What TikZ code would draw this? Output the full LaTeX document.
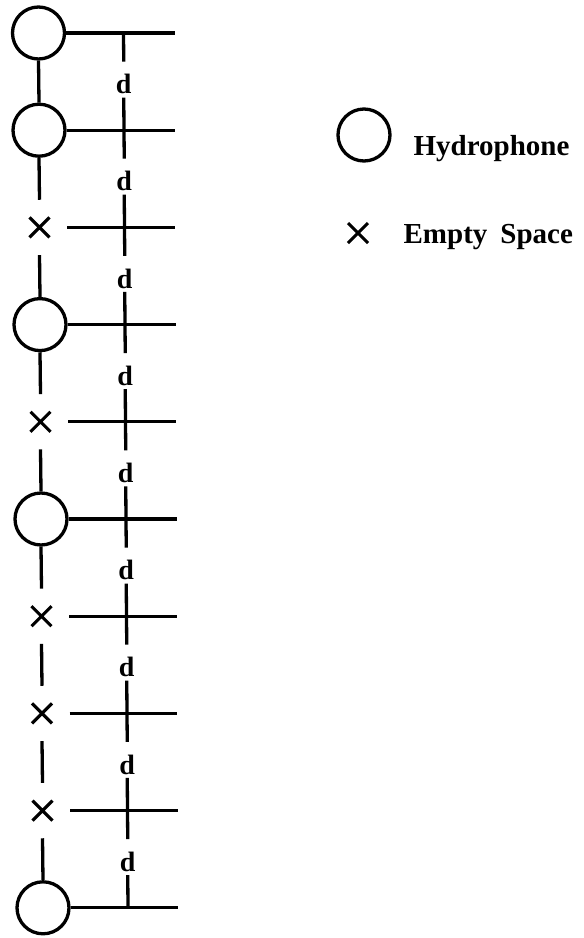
\documentclass[tikz,border=0pt]{standalone}
\usepackage{fontspec}
\setmainfont{Liberation Serif}
\usetikzlibrary{calc}
\begin{document}
\begin{tikzpicture}[x=1pt,y=-1pt,line width=3.3pt,
  hnode/.style={circle,draw,minimum size=52pt,inner sep=0pt},
  xnode/.style={circle,minimum size=52pt,inner sep=0pt,
    path picture={\draw[line width=3.1pt]
      ($(path picture bounding box.center)+(-10,-10)$) -- ($(path picture bounding box.center)+(10,10)$)
      ($(path picture bounding box.center)+(-10,10)$) -- ($(path picture bounding box.center)+(10,-10)$);}},
  dlab/.style={inner sep=0pt,anchor=base,font=\fontsize{28}{32}\selectfont\bfseries},
  legtext/.style={inner sep=0pt,anchor=base west,font=\fontsize{29}{34}\selectfont\bfseries}]
\useasboundingbox (0,0) rectangle (584,938);
\foreach \t [count=\i from 0] in {h,h,x,h,x,h,x,x,x,h} {
  \pgfmathsetmacro\yy{33+97.2*\i}
  \pgfmathsetmacro\xx{38.5+0.5*\i}
  \pgfmathsetmacro\xj{123.5+0.5*\i}
  \pgfmathsetmacro\xe{174.5+0.4*\i}
  \node[\t node] (n\i) at (\xx,\yy) {};
  \coordinate (j\i) at (\xj,\yy);
  \coordinate (e\i) at (\xe,\yy);
  \draw (n\i.east) -- (e\i);
}
\foreach \i in {0,...,8} {
  \pgfmathtruncatemacro\k{\i+1}
  \draw (n\i.south) -- (n\k.north);
  \node[dlab] (d\i) at ($(j\i)!0.5!(j\k)+(0,12)$) {d};
  \draw (j\i) -- ([yshift=11pt]d\i.north);
  \draw ([yshift=-2pt]d\i.south) -- (j\k);
}
% legend
\node[hnode] (lh) at (364,135) {};
\node[legtext] (lht) at (412,155) {Hydrophone};
\node[xnode] (lx) at (358,233) {};
\node[legtext] (lxt) at (402,243) {Empty\hspace{0.45em}Space};
\end{tikzpicture}
\end{document}
